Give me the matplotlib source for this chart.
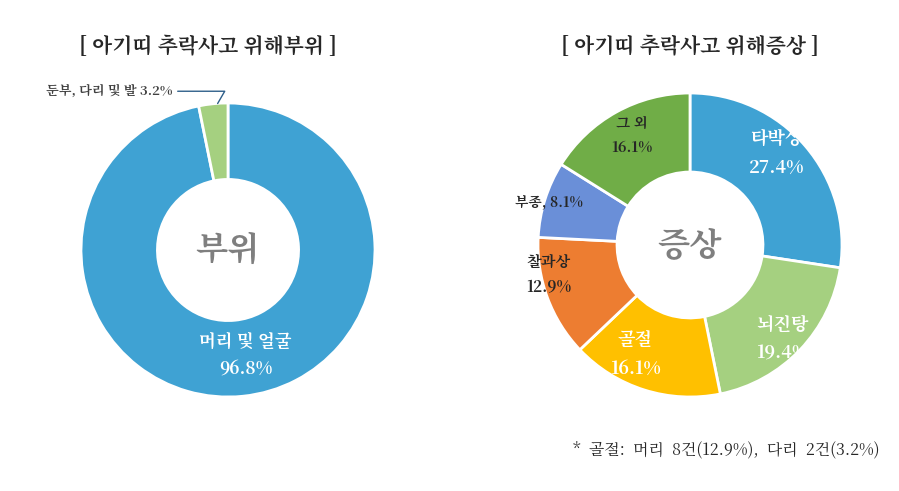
import matplotlib
matplotlib.use("Agg")
import matplotlib.pyplot as plt
from matplotlib import font_manager as fm

cjk = [f for f in fm.findSystemFonts() if "CJK" in f or "Noto Sans KR" in f]
fam = None
for f in sorted(cjk, key=lambda p: (0 if "KR" in p or "kr" in p else 1, 0 if "Bold" in p else 1)):
    try:
        fm.fontManager.addfont(f)
        fam = fm.FontProperties(fname=f).get_name()
        break
    except Exception:
        pass
plt.rcParams["font.family"] = [fam or "Noto Sans CJK KR", "Noto Sans CJK KR", "Noto Sans CJK JP", "DejaVu Sans"]

left_labels = ["머리 및 얼굴", "둔부, 다리 및 발"]
left_values = [96.8, 3.2]
left_colors = ["#3fa2d3", "#a5d080"]

right_labels = ["타박상", "뇌진탕", "골절", "찰과상", "부종", "그 외"]
right_values = [27.4, 19.4, 16.1, 12.9, 8.1, 16.1]
right_colors = ["#3fa2d3", "#a5d080", "#ffc000", "#ed7d31", "#6a8fd8", "#70ad47"]

W, H = 899, 491
fig = plt.figure(figsize=(W/100, H/100), dpi=100)

def ax_at(cx, cy, r):
    ax = fig.add_axes([(cx-r)/W, (H-cy-r)/H, 2*r/W, 2*r/H])
    return ax

def fix(ax):
    ax.set_xlim(-1, 1); ax.set_ylim(-1, 1); ax.set_aspect("equal")

ax1 = ax_at(228, 250, 147)
ax1.pie(left_values, colors=left_colors, startangle=90, counterclock=False,
        wedgeprops=dict(width=0.52, edgecolor="white", linewidth=2))
fix(ax1)
ax1.text(0, 0, "부위", ha="center", va="center", fontsize=24, fontweight="bold", color="#7f7f7f")
ax1.text(0.12, -0.72, f"{left_labels[0]}\n{left_values[0]}%", ha="center", va="center",
         fontsize=12.5, fontweight="bold", color="white", linespacing=1.5)
ax1.annotate(f"{left_labels[1]} {left_values[1]}%", xy=(-0.08, 0.98), xytext=(-0.38, 1.08),
             ha="right", va="center", fontsize=9.5, fontweight="bold", color="#404040",
             arrowprops=dict(arrowstyle="-", color="#2e5f8a", lw=1,
                             connectionstyle="angle,angleA=0,angleB=60,rad=0"),
             annotation_clip=False)

ax2 = ax_at(690, 245, 152)
ax2.pie(right_values, colors=right_colors, startangle=90, counterclock=False,
        wedgeprops=dict(width=0.52, edgecolor="white", linewidth=2))
fix(ax2)
ax2.text(0, 0, "증상", ha="center", va="center", fontsize=24, fontweight="bold", color="#7f7f7f")
pos = [(0.57, 0.6, "white", 13), (0.61, -0.62, "white", 13), (-0.36, -0.72, "white", 13),
       (-0.93, -0.2, "#262626", 11), (-0.93, 0.28, "#262626", 10), (-0.38, 0.72, "#262626", 10.5)]
for i, (x, y, c, fs) in enumerate(pos):
    if right_labels[i] == "부종":
        s = f"{right_labels[i]}, {right_values[i]}%"
    else:
        s = f"{right_labels[i]}\n{right_values[i]}%"
    ax2.text(x, y, s, ha="center", va="center", fontsize=fs, fontweight="bold",
             color=c, linespacing=1.6)

fig.text(208/W, 1-47/H, "[ 아기띠 추락사고 위해부위 ]", ha="center", va="center",
         fontsize=15, fontweight="bold", color="#262626")
fig.text(690/W, 1-47/H, "[ 아기띠 추락사고 위해증상 ]", ha="center", va="center",
         fontsize=15, fontweight="bold", color="#262626")
fig.text(880/W, 1-450/H, "*  골절:  머리  8건(12.9%),  다리  2건(3.2%)", ha="right", va="center",
         fontsize=11.5, color="#262626")

fig.savefig("out.png", dpi=100, facecolor="white")
